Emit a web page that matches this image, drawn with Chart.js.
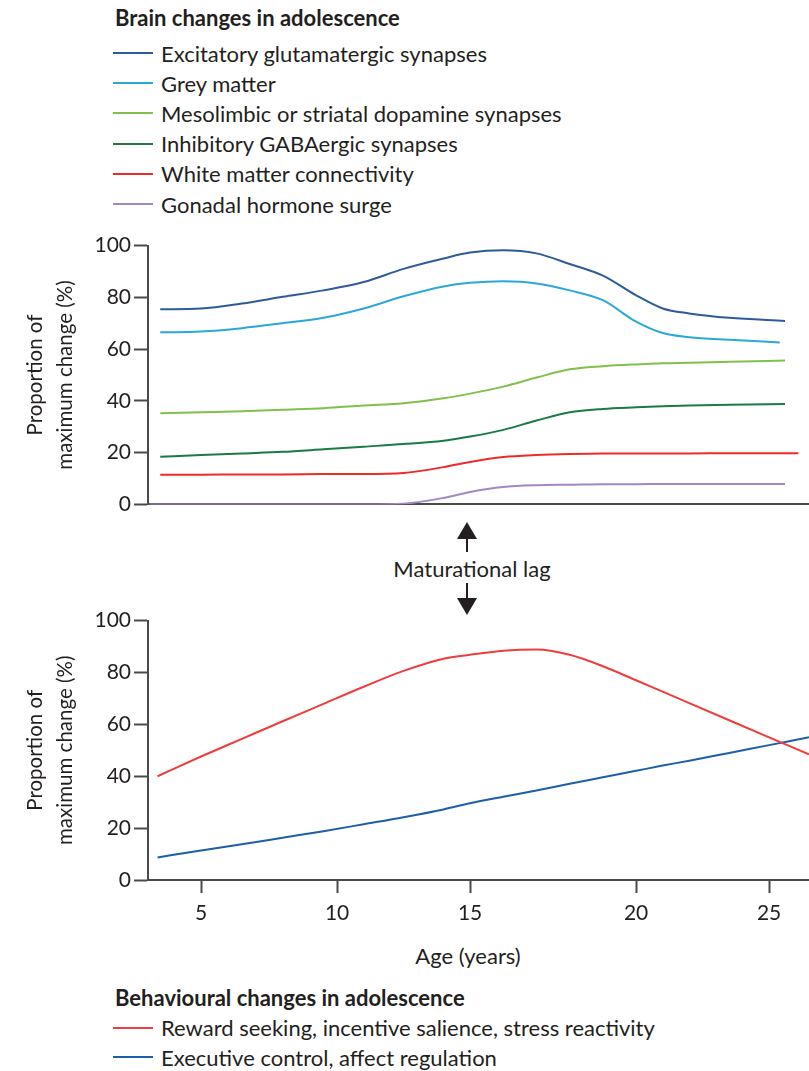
<!DOCTYPE html>
<html>
<head>
<meta charset="utf-8">
<script src="https://cdn.jsdelivr.net/npm/chart.js@4/dist/chart.umd.min.js"></script>
<style>
  body { margin: 0; background: #fff; }
  #page { position: relative; width: 809px; height: 1071px; overflow: hidden; font-family: Lato, sans-serif; color: #231f20; }
  canvas { position: absolute; left: 0; }
  .legend { position: absolute; left: 113px; font-size: 22px; }
  .legend .lt { font-weight: bold; height: 30px; line-height: 30px; padding-left: 2px; }
  .legend .li { display: flex; align-items: center; white-space: nowrap; }
  .legend .sw { display: inline-block; width: 40px; height: 2px; margin-right: 8px; }
  .txt { position: absolute; font-size: 22px; white-space: nowrap; transform: translate(-50%, -50%); }
  .tri-up { position: absolute; width: 0; height: 0; border-left: 10px solid transparent; border-right: 10px solid transparent; border-bottom: 17px solid #231f20; }
  .tri-down { position: absolute; width: 0; height: 0; border-left: 10px solid transparent; border-right: 10px solid transparent; border-top: 17px solid #231f20; }
  .shaft { position: absolute; width: 2px; background: #231f20; }
</style>
</head>
<body>
<div id="page">
  <div class="legend" id="brainLegend" style="top:3px"></div>
  <canvas id="brain" width="809" height="290" style="top:230px"></canvas>

  <div class="tri-up" style="left:457px; top:522px"></div>
  <div class="shaft" style="left:466px; top:538px; height:14px"></div>
  <div class="txt" style="left:472px; top:568px">Maturational lag</div>
  <div class="shaft" style="left:466px; top:583px; height:16px"></div>
  <div class="tri-down" style="left:457px; top:598px"></div>

  <canvas id="behaviour" width="809" height="330" style="top:605px"></canvas>
  <div class="txt" style="left:468px; top:955px">Age (years)</div>
  <div class="legend" id="behavLegend" style="top:983px"></div>
</div>
<script>
// ---- données ----
const brainAges = [3.1, 3.5, 5, 6.5, 8, 9.5, 11, 12.5, 14, 15, 16, 17, 18, 19, 20, 21, 22, 23.5, 25.4, 25.6, 26.1];
const excitatory = [null, 75.4, 75.7, 77.6, 80.2, 82.7, 85.9, 91, 95, 97.3, 98.2, 97, 92.9, 88.4, 80.8, 75.7, 73.8, 72.1, null, 70.9, null];
const greyMatter = [null, 66.5, 66.8, 68.1, 70, 72.1, 75.7, 80.4, 84.2, 85.6, 86.2, 85.4, 82.7, 78.9, 70.6, 66.2, 64.6, 63.6, 62.6, null, null];
const mesolimbic = [null, 35.2, 35.6, 36, 36.6, 37.2, 38.2, 39.1, 41, 42.8, 45.5, 49, 52.2, 53.4, 54.1, 54.5, 54.7, 55.1, null, 55.6, null];
const inhibitory = [null, 18.4, 19.1, 19.7, 20.3, 21.3, 22.3, 23.3, 24.6, 26.2, 28.8, 32.4, 35.6, 36.9, 37.5, 37.9, 38.2, 38.5, null, 38.8, null];
const whiteMatter = [null, 11.5, 11.5, 11.6, 11.6, 11.7, 11.7, 12.1, 14.4, 16.4, 18.3, 19.1, 19.5, 19.7, 19.7, 19.7, 19.7, 19.8, null, 19.8, 19.8];
const gonadal = [0, 0, 0, 0, 0, 0, 0, 0.3, 2.5, 4.8, 6.7, 7.4, 7.6, 7.8, 7.8, 7.9, 7.9, 7.9, null, 7.9, null];

const behavAges = [3.4, 5, 6.5, 8, 9.5, 11, 12.5, 14, 15, 16, 17, 18, 19, 20, 21, 22, 23.5, 25, 26.5];
const rewardSeeking = [40, 47.6, 54.4, 61.2, 67.9, 74.5, 80.6, 85.3, 86.8, 88.4, 88.9, 86.8, 82.4, 77, 72.6, 68.2, 61.6, 55, 48.4];
const executiveControl = [8.7, 11.4, 13.8, 16.3, 18.8, 21.5, 24.2, 27.2, 29.6, 32.1, 34.5, 37.1, 39.6, 42.1, 44.1, 46, 49, 52, 55];

const ageTicks = [5, 10, 15, 20, 25];
const yTicks = [0, 20, 40, 60, 80, 100];

const brainLabels = ['Excitatory glutamatergic synapses', 'Grey matter', 'Mesolimbic or striatal dopamine synapses',
  'Inhibitory GABAergic synapses', 'White matter connectivity', 'Gonadal hormone surge'];
const brainColors = ['#2e5c9a', '#2aa8d8', '#80c04c', '#1b7a45', '#ee2a2a', '#a388c4'];
const behavLabels = ['Reward seeking, incentive salience, stress reactivity', 'Executive control, affect regulation'];
const behavColors = ['#f03c3c', '#1f5ea8'];

const axisColor = '#4a4a4a';

// L'axe des âges de la figure n'est pas régulier (15–20 plus large) : échelle par morceaux
const knotAges = [5, 10, 15, 20, 25];
const knotSpan = [0, 136, 269, 435, 568];
function warp(a) {
  const n = knotAges.length;
  if (a <= knotAges[0]) return knotSpan[0] + (a - knotAges[0]) * (knotSpan[1] - knotSpan[0]) / (knotAges[1] - knotAges[0]);
  for (let i = 1; i < n; i++) {
    if (a <= knotAges[i]) {
      const t = (a - knotAges[i - 1]) / (knotAges[i] - knotAges[i - 1]);
      return knotSpan[i - 1] + t * (knotSpan[i] - knotSpan[i - 1]);
    }
  }
  return knotSpan[n - 1] + (a - knotAges[n - 1]) * (knotSpan[n - 1] - knotSpan[n - 2]) / (knotAges[n - 1] - knotAges[n - 2]);
}
function unwarp(w) {
  const n = knotAges.length;
  if (w <= knotSpan[0]) return knotAges[0] + (w - knotSpan[0]) * (knotAges[1] - knotAges[0]) / (knotSpan[1] - knotSpan[0]);
  for (let i = 1; i < n; i++) {
    if (w <= knotSpan[i]) {
      const t = (w - knotSpan[i - 1]) / (knotSpan[i] - knotSpan[i - 1]);
      return knotAges[i - 1] + t * (knotAges[i] - knotAges[i - 1]);
    }
  }
  return knotAges[n - 1] + (w - knotSpan[n - 1]) * (knotAges[n - 1] - knotAges[n - 2]) / (knotSpan[n - 1] - knotSpan[n - 2]);
}
class AgeScale extends Chart.LinearScale {
  getPixelForValue(value) {
    if (value === null || value === undefined || isNaN(value)) return NaN;
    const w0 = warp(this.min), w1 = warp(this.max);
    return this.getPixelForDecimal((warp(value) - w0) / (w1 - w0));
  }
  getValueForPixel(pixel) {
    const w0 = warp(this.min), w1 = warp(this.max);
    return unwarp(w0 + this.getDecimalForPixel(pixel) * (w1 - w0));
  }
}
AgeScale.id = 'age';
AgeScale.defaults = Chart.LinearScale.defaults;
Chart.register(AgeScale);

Chart.defaults.font.family = 'Lato, sans-serif';
Chart.defaults.font.size = 21;
Chart.defaults.color = '#231f20';

function makeSets(ages, series, labels, colors) {
  return series.map((vals, i) => ({
    label: labels[i],
    data: ages.map((a, j) => ({ x: a, y: vals[j] })),
    borderColor: colors[i],
    backgroundColor: colors[i],
    borderWidth: 2,
    pointRadius: 0,
    cubicInterpolationMode: 'monotone',
    spanGaps: true,
    fill: false
  }));
}

function makeOptions(showAgeTicks, padTop, xHeight) {
  return {
    responsive: false,
    animation: false,
    layout: { padding: { top: padTop, left: 0, right: 0, bottom: 0 } },
    plugins: { legend: { display: false }, tooltip: { enabled: false } },
    scales: {
      x: {
        type: 'age', min: 3.05, max: 26.5,
        afterBuildTicks: s => { s.ticks = ageTicks.map(v => ({ value: v })); },
        grid: { display: showAgeTicks, drawOnChartArea: false, tickLength: 13, tickColor: axisColor, tickWidth: 2 },
        border: { display: true, color: axisColor, width: 2 },
        ticks: { display: showAgeTicks, padding: 8, color: '#231f20', font: { size: 21 } },
        afterFit: s => { s.height = xHeight; }
      },
      y: {
        min: 0, max: 100,
        afterBuildTicks: s => { s.ticks = yTicks.map(v => ({ value: v })); },
        grid: { drawOnChartArea: false, tickLength: 14, tickColor: axisColor, tickWidth: 2 },
        border: { display: true, color: axisColor, width: 2 },
        ticks: { padding: 3, color: '#231f20', font: { size: 21 } },
        title: {
          display: true, text: ['Proportion of', 'maximum change (%)'],
          color: '#231f20', font: { size: 20.5, lineHeight: 1.46 }, padding: { top: 20, bottom: 0 }
        },
        afterFit: s => { s.width = 148; }
      }
    }
  };
}

function buildLegend(el, title, chart) {
  const rows = chart.data.datasets.map(d =>
    `<div class="li" style="height:${el.dataset.row}px"><span class="sw" style="background:${d.borderColor}"></span>${d.label}</div>`);
  el.innerHTML = `<div class="lt" style="margin-bottom:${el.dataset.gap}px">${title}</div>` + rows.join('');
}

const brainChart = new Chart(document.getElementById('brain'), {
  type: 'line',
  data: { datasets: makeSets(brainAges, [excitatory, greyMatter, mesolimbic, inhibitory, whiteMatter, gonadal], brainLabels, brainColors) },
  options: makeOptions(false, 13, 15)
});

const behavChart = new Chart(document.getElementById('behaviour'), {
  type: 'line',
  data: { datasets: makeSets(behavAges, [rewardSeeking, executiveControl], behavLabels, behavColors) },
  options: makeOptions(true, 15, 55)
});

const bl = document.getElementById('brainLegend');
bl.dataset.row = 30.2; bl.dataset.gap = 5;
buildLegend(bl, 'Brain changes in adolescence', brainChart);
const hl = document.getElementById('behavLegend');
hl.dataset.row = 29.5; hl.dataset.gap = 0;
buildLegend(hl, 'Behavioural changes in adolescence', behavChart);
</script>
</body>
</html>
